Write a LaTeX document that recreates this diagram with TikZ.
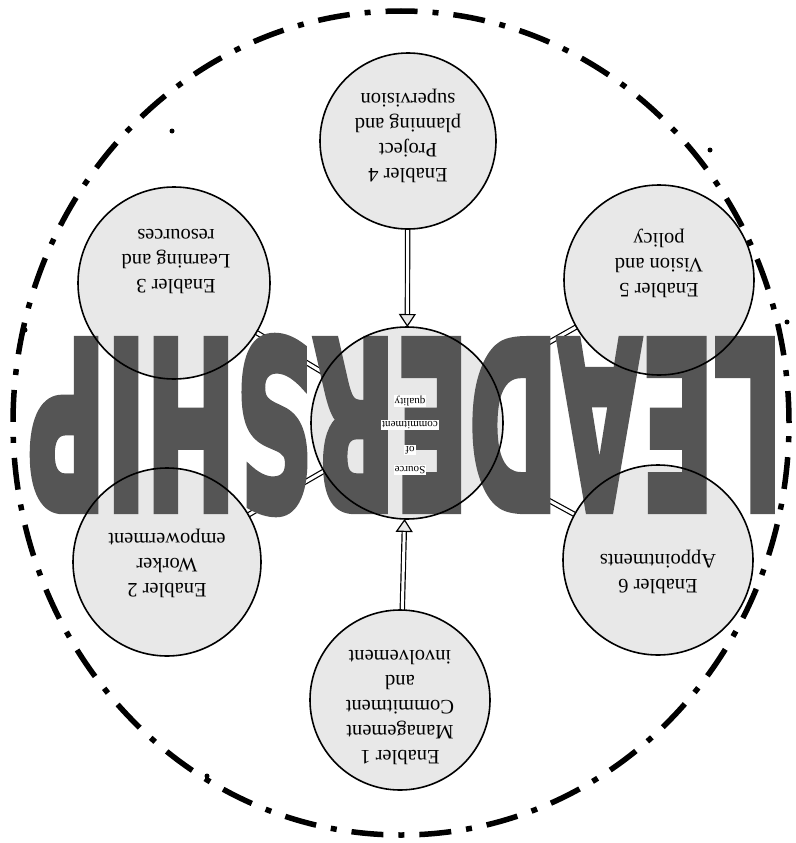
\documentclass[tikz,border=0pt]{standalone}
\usepackage{fontspec}
\setmainfont{Liberation Serif}
\newfontfamily\bigsans{DejaVu Sans}[BoldFeatures={FakeBold=4}]
\usetikzlibrary{arrows.meta}
\definecolor{fillgray}{RGB}{232,232,232}
\definecolor{lettergray}{RGB}{85,85,85}
\begin{document}
\begin{tikzpicture}[x=1pt,y=1pt,
  enabler/.style={circle, fill=fillgray, inner sep=0pt, outer sep=0pt, minimum size=#1},
  rim/.style={circle, draw=black, line width=1.6pt, inner sep=0pt, minimum size=#1},
  ctext/.style={rotate=180, align=center, font=\fontsize{20.5}{25}\selectfont},
  smalltext/.style={rotate=180, fill=white, inner sep=1pt, font=\fontsize{11}{12}\selectfont},
  dlink/.style={double=white, double distance=3pt, line width=1.2pt},
  arrowlink/.style={dlink, -{Triangle[length=13pt,width=17pt,fill=fillgray,line width=1.2pt]}},
  straydot/.style={fill=black}]
\useasboundingbox (0,0) rectangle (795,-843);
% outer dash-dot ring
\draw[line width=5.5pt, dash pattern=on 32pt off 15pt on 6pt off 15pt]
  (401,-423) ellipse [x radius=388, y radius=412];
\foreach \p in {(172,-131),(710,-150),(25,-330),(787,-322),(207,-776)}
  \fill[straydot] \p circle (2.5);
% circle fills
\node[enabler=192pt] (c)  at (407,-423) {};
\node[enabler=176pt] (e4) at (408,-141) {};
\node[enabler=180pt] (e1) at (400,-700) {};
\node[enabler=192pt] (e3) at (174,-283) {};
\node[enabler=190pt] (e5) at (659,-280) {};
\node[enabler=188pt] (e2) at (167,-562) {};
\node[enabler=190pt] (e6) at (658,-560) {};
% connectors
\draw[arrowlink] (e4) -- (c);
\draw[arrowlink] (e1) -- (c);
\draw[dlink] (e3) -- (c);
\draw[dlink] (e5) -- (c);
\draw[dlink] (e2) -- (c);
\draw[dlink] (e6) -- (c);
% big word
\node[rotate=180, text=lettergray, inner sep=0pt] (word) at (405,-425)
  {\resizebox{755pt}{172pt}{\bigsans\bfseries LEADERSHIP}};
% rims on top
\node[rim=192pt] at (c) {};
\node[rim=176pt] at (e4) {};
\node[rim=180pt] at (e1) {};
\node[rim=192pt] at (e3) {};
\node[rim=190pt] at (e5) {};
\node[rim=188pt] at (e2) {};
\node[rim=190pt] at (e6) {};
% labels
\node[ctext] (t4) at (408,-136) {Enabler 4\\Project\\planning and\\supervision};
\node[ctext] (t1) at (400,-708) {Enabler 1\\Management\\Commitment\\and\\involvement};
\node[ctext] (t3) at (176,-262) {Enabler 3\\Learning and\\resources};
\node[ctext] (t5) at (659,-263) {Enabler 5\\Vision and\\policy};
\node[ctext] (t2) at (167,-563) {Enabler 2\\Worker\\empowerment};
\node[ctext] (t6) at (658,-572) {Enabler 6\\Appointments};
% centre text
\node[smalltext] (s1) at (410,-470) {Source};
\node[smalltext] (s2) at (410,-450) {of};
\node[smalltext] (s3) at (410,-425) {commitment};
\node[smalltext] (s4) at (410,-401) {quality};
\end{tikzpicture}
\end{document}
